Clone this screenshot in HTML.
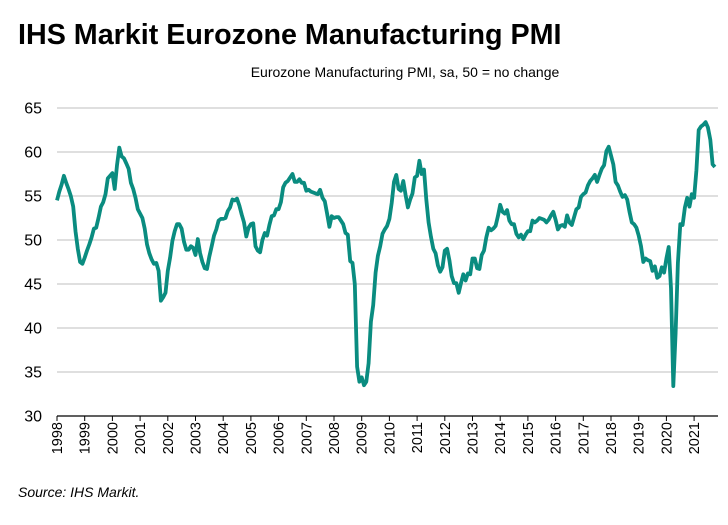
<!DOCTYPE html>
<html><head><meta charset="utf-8"><style>
body{margin:0;background:#fff;font-family:"Liberation Sans",Arial,sans-serif;}
</style></head><body>
<svg width="728" height="520" viewBox="0 0 728 520" xmlns="http://www.w3.org/2000/svg">
<text x="18" y="44" font-size="28.7" font-weight="bold" fill="#000">IHS Markit Eurozone Manufacturing PMI</text>
<text x="405" y="77" font-size="14" text-anchor="middle" fill="#000">Eurozone Manufacturing PMI, sa, 50 = no change</text>
<g id="grid"></g>
<g id="yticks"></g>
<g id="xticks"></g>
<path id="line" fill="none" stroke="#0a8c80" stroke-width="3.8" stroke-linejoin="round"/>
<text x="18" y="497" font-size="14" font-style="italic" fill="#000">Source: IHS Markit.</text>
</svg>
<script>
const yTicks=[30,35,40,45,50,55,60,65];
const years=[1998,1999,2000,2001,2002,2003,2004,2005,2006,2007,2008,2009,2010,2011,2012,2013,2014,2015,2016,2017,2018,2019,2020,2021];
const startYear=1998;
const pmi=[
54.5,55.5,56.3,57.3,56.5,55.8,55,53.8,51,49,47.5,47.3,
48,48.8,49.5,50.3,51.3,51.4,52.5,53.8,54.3,55.2,57,57.3,
57.6,55.8,58.5,60.5,59.5,59.3,58.7,58.1,56.5,55.8,54.8,53.5,
53,52.5,51.3,49.5,48.5,47.8,47.3,47.4,46.5,43.1,43.5,44,
46.5,48,49.9,51,51.8,51.8,51.3,49.8,48.9,48.9,49.3,49.1,
48.3,50.1,48.5,47.5,46.8,46.7,48.1,49.3,50.5,51.2,52.2,52.4,
52.4,52.5,53.3,53.7,54.6,54.5,54.7,53.9,52.9,52,50.4,51.4,
51.8,51.9,49.3,48.8,48.6,50,50.8,50.5,51.7,52.7,52.8,53.5,
53.5,54.3,56,56.5,56.7,57.1,57.5,56.6,56.6,56.9,56.5,56.5,
55.6,55.7,55.5,55.4,55.3,55.2,55.7,54.8,54.4,53,51.5,52.7,
52.5,52.6,52.6,52.2,51.8,50.8,50.6,47.6,47.4,45,35.6,33.9,
34.4,33.5,33.9,36,40.7,42.6,46.3,48.2,49.3,50.7,51.2,51.6,
52.4,54.2,56.6,57.4,55.8,55.6,56.7,55.1,53.7,54.6,55.3,57.1,
57.3,59,57.5,58,54.6,52,50.4,49,48.5,47.1,46.4,46.9,
48.8,49,47.7,45.9,45.1,45.1,44,45.1,46.1,45.4,46.2,46.1,
47.9,47.9,46.8,46.7,48.3,48.8,50.3,51.4,51.1,51.3,51.6,52.7,
54,53.2,53,53.4,52.2,51.8,51.8,50.7,50.3,50.6,50.1,50.6,
51,51,52.2,52,52.2,52.5,52.4,52.3,52,52.3,52.8,53.2,
52.3,51.2,51.6,51.7,51.5,52.8,52,51.7,52.6,53.5,53.7,54.9,
55.2,55.4,56.2,56.7,57,57.4,56.6,57.4,58.1,58.5,60.1,60.6,
59.6,58.6,56.6,56.2,55.5,54.9,55.1,54.6,53.2,52,51.8,51.4,
50.5,49.3,47.5,47.9,47.7,47.6,46.5,47,45.7,45.9,46.9,46.3,
47.9,49.2,44.5,33.4,39.4,47.4,51.8,51.7,53.7,54.8,53.8,55.2,
54.8,57.9,62.5,62.9,63.1,63.4,62.8,61.4,58.6,58.3];
const X0=57,YEARW=27.7,Y30=416,PPU=(416-108)/35,XR=718;
const xs=i=>X0+i*YEARW/12;
const ys=v=>Y30-(v-30)*PPU;
const NS='http://www.w3.org/2000/svg';
const grid=document.getElementById('grid'),yt=document.getElementById('yticks'),xt=document.getElementById('xticks');
yTicks.forEach(t=>{
  if(t>30){const l=document.createElementNS(NS,'line');
  l.setAttribute('x1',X0);l.setAttribute('x2',XR);l.setAttribute('y1',ys(t));l.setAttribute('y2',ys(t));
  l.setAttribute('stroke','#bfbfbf');l.setAttribute('stroke-width','1');
  
  
  grid.appendChild(l);}
  const tx=document.createElementNS(NS,'text');
  tx.setAttribute('x',42);tx.setAttribute('y',ys(t)+5.5);tx.setAttribute('text-anchor','end');tx.setAttribute('font-size','16');
  tx.textContent=t;
  
  
  yt.appendChild(tx);
});
const ax=document.createElementNS(NS,'line');
ax.setAttribute('x1',X0);ax.setAttribute('x2',XR);ax.setAttribute('y1',Y30);ax.setAttribute('y2',Y30);
ax.setAttribute('stroke','#000');ax.setAttribute('stroke-width','1.3');


xt.appendChild(ax);
years.forEach(y=>{
  const x=xs((y-startYear)*12);
  const tk=document.createElementNS(NS,'line');
  tk.setAttribute('x1',x);tk.setAttribute('x2',x);tk.setAttribute('y1',Y30);tk.setAttribute('y2',Y30+5);
  tk.setAttribute('stroke','#000');
  
  
  xt.appendChild(tk);
  const tx=document.createElementNS(NS,'text');
  tx.setAttribute('transform','translate('+(x+5)+','+(Y30+6)+') rotate(-90)');
  tx.setAttribute('text-anchor','end');tx.setAttribute('font-size','14.5');
  tx.textContent=y;
  
  
  xt.appendChild(tx);
});
document.getElementById('line').setAttribute('d',pmi.map((v,i)=>(i?'L':'M')+xs(i).toFixed(1)+','+ys(v).toFixed(1)).join(''));
</script>
</body></html>
